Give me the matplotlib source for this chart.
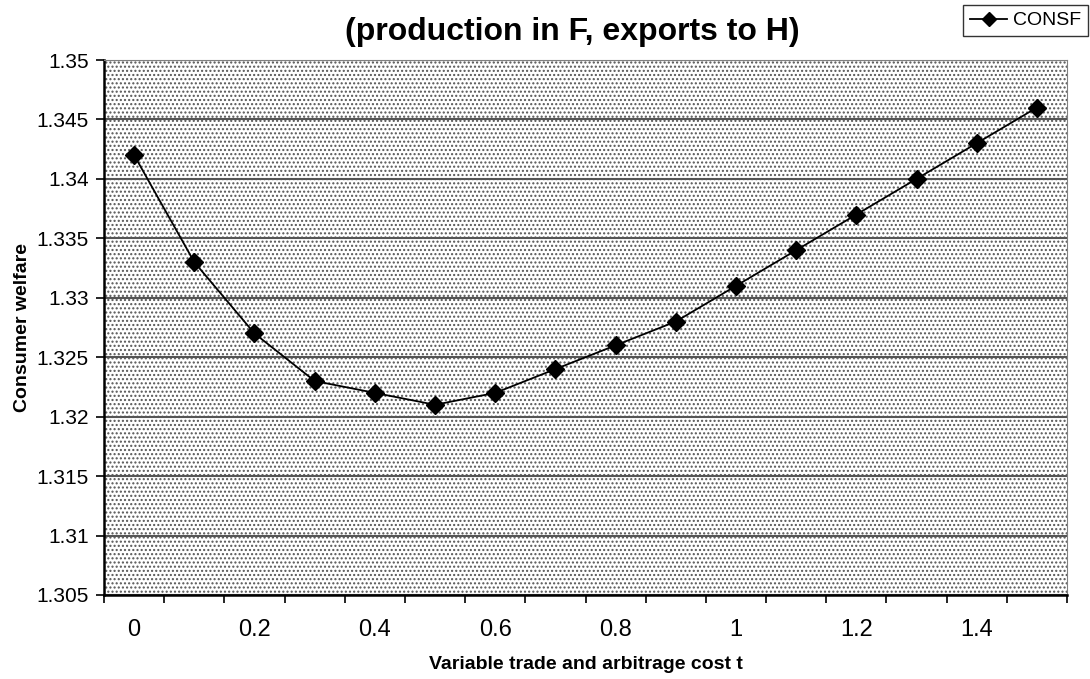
import matplotlib.pyplot as plt
import numpy as np
from matplotlib.patches import Rectangle

plt.rcParams['font.family'] = ['Liberation Sans', 'DejaVu Sans']
plt.rcParams['hatch.linewidth'] = 1.0

t_values = [0, 0.1, 0.2, 0.3, 0.4, 0.5, 0.6, 0.7, 0.8, 0.9, 1.0, 1.1, 1.2, 1.3, 1.4, 1.5]
consf = [1.342, 1.333, 1.327, 1.323, 1.322, 1.321, 1.322, 1.324, 1.326, 1.328,
         1.331, 1.334, 1.337, 1.340, 1.343, 1.346]
x_labels = ['0', '0.2', '0.4', '0.6', '0.8', '1', '1.2', '1.4']
y_ticks = [1.305, 1.31, 1.315, 1.32, 1.325, 1.33, 1.335, 1.34, 1.345, 1.35]

fig = plt.figure(figsize=(10.9, 6.79), dpi=100)
ax = fig.add_axes([104 / 1090, 1 - 595 / 679, 963 / 1090, 535 / 679])

# stippled background like the excel plot area
bg = Rectangle((0, 0), 1, 1, transform=ax.transAxes, facecolor='white',
               edgecolor='#555555', hatch='....', linewidth=0, zorder=0)
ax.add_patch(bg)

x = np.arange(len(t_values))
ax.plot(x, consf, color='black', linewidth=1.3, marker='D', markersize=9,
        label='CONSF', zorder=3)

ax.set_xlim(-0.5, len(t_values) - 0.5)
ax.set_ylim(1.305, 1.35)
ax.set_yticks(y_ticks)
ax.set_yticklabels([f'{v:g}' for v in y_ticks], fontsize=15)
ax.yaxis.grid(True, color='#555555', linewidth=1.5, zorder=1)

ax.set_xticks(np.arange(-0.5, len(t_values)))
ax.set_xticklabels([])
ax.set_xticks(np.arange(0, len(t_values), 2), minor=True)
ax.set_xticklabels(x_labels, minor=True, fontsize=17)
ax.tick_params(axis='x', which='minor', length=0, pad=17)
ax.tick_params(axis='both', which='major', length=6, width=1.2, direction='out', color='black')
ax.tick_params(axis='y', pad=5)

for s in ['top', 'right']:
    ax.spines[s].set_color('#808080')
for s in ['left', 'bottom']:
    ax.spines[s].set_color('black')
    ax.spines[s].set_linewidth(1.8)

ax.set_xlabel('Variable trade and arbitrage cost t', fontsize=14, fontweight='bold', labelpad=11)
ax.set_ylabel('Consumer welfare', fontsize=14, fontweight='bold', labelpad=4)

fig.text(572 / 1090, 1 - 32 / 679, '(production in F, exports to H)', ha='center',
         va='center', fontsize=23, fontweight='bold')

leg = fig.legend(loc='upper right', bbox_to_anchor=(1088 / 1090, 1 - 5 / 679),
                 fontsize=14, frameon=True, fancybox=False, edgecolor='black',
                 borderpad=0.35, borderaxespad=0, handlelength=1.9,
                 handletextpad=0.3, markerscale=0.75)
leg.get_frame().set_linewidth(1.0)

fig.savefig('out.png', dpi=100)
